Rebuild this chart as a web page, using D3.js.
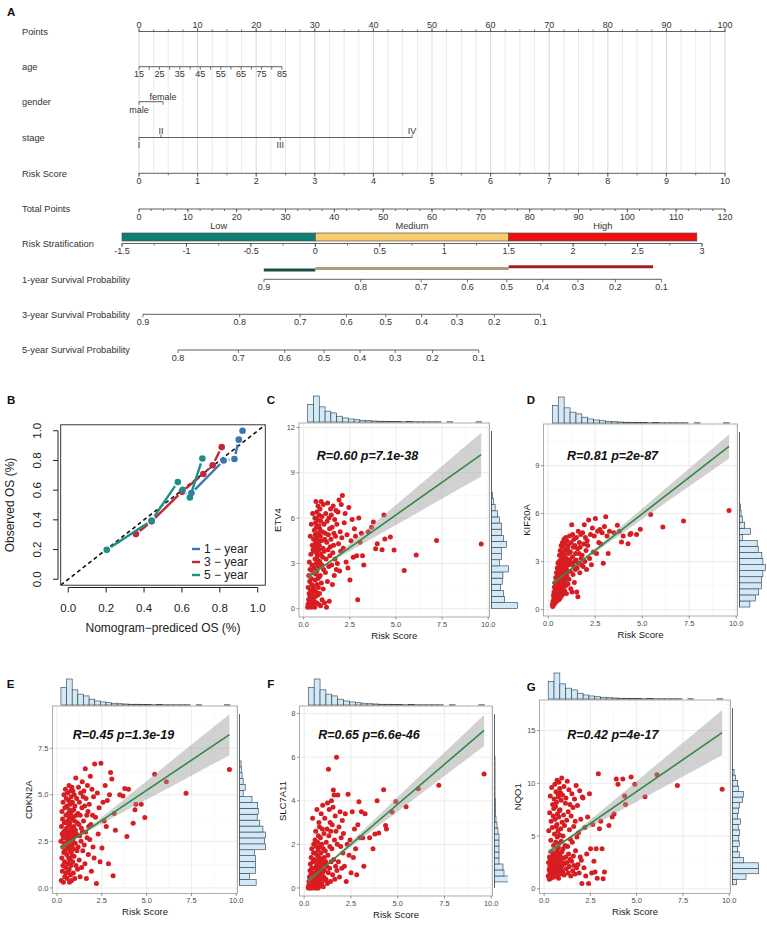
<!DOCTYPE html>
<html>
<head>
<meta charset="utf-8">
<title>Nomogram, calibration and risk score correlations</title>
<script src="https://cdn.jsdelivr.net/npm/d3@7/dist/d3.min.js"></script>
<style>
  body { margin: 0; background: #fff; }
  svg { display: block; font-family: "Liberation Sans", Arial, Helvetica, sans-serif; }
</style>
</head>
<body>
<svg id="fig" width="767" height="926"></svg>
<script>
// ---------------- A: nomogram ----------------
var pointsTicks = [0, 10, 20, 30, 40, 50, 60, 70, 80, 90, 100];
var ageTicks = [15, 20, 25, 30, 35, 40, 45, 50, 55, 60, 65, 70, 75, 80, 85];
var ageLabels = [15, 25, 35, 45, 55, 65, 75, 85];
var agePoints = [0, 24.4];               // points for age 15 and age 85
var genderLevels = ['male', 'female'];
var genderPoints = [0, 4.1];
var stageLevels = ['I', 'II', 'III', 'IV'];
var stagePoints = [0, 3.75, 24.1, 46.6];
var riskScoreTicks = [0, 1, 2, 3, 4, 5, 6, 7, 8, 9, 10];
var riskScorePoints = [0, 100];          // points for risk score 0 and 10
var totalPointsTicks = [0, 10, 20, 30, 40, 50, 60, 70, 80, 90, 100, 110, 120];
var stratTicks = [-1.5, -1, -0.5, 0, 0.5, 1, 1.5, 2, 2.5, 3];
var stratGroups = ['Low', 'Medium', 'High'];
var stratCuts = [-1.5, 0, 1.5, 2.96];
var oneYearBar = [-0.40, 2.62];
var surv1Ticks = [0.9, 0.8, 0.7, 0.6, 0.5, 0.4, 0.3, 0.2, 0.1];
var surv3Ticks = [0.9, 0.8, 0.7, 0.6, 0.5, 0.4, 0.3, 0.2, 0.1];
var surv5Ticks = [0.8, 0.7, 0.6, 0.5, 0.4, 0.3, 0.2, 0.1];
var survShift = [1.852, 0.913, 0.434];   // log(-log S) offset of each horizon

// ---------------- B: calibration ----------------
var cal1Pred = [0.65, 0.82, 0.877, 0.90, 0.92];
var cal1Obs  = [0.58, 0.80, 0.81, 0.94, 1.00];
var cal3Pred = [0.357, 0.44, 0.60, 0.713, 0.762, 0.81];
var cal3Obs  = [0.304, 0.39, 0.59, 0.709, 0.768, 0.89];
var cal5Pred = [0.203, 0.44, 0.578, 0.604, 0.642, 0.708];
var cal5Obs  = [0.198, 0.396, 0.655, 0.603, 0.551, 0.813];
var calTicks = [0, 0.2, 0.4, 0.6, 0.8, 1.0];

// ---------------- C-G: risk score vs gene expression ----------------
var riskScore = [
  0.22,0.24,0.25,0.27,0.28,0.29,0.30,0.31,0.32,0.33,0.34,0.35,0.36,0.37,0.38,0.39,0.40,0.41,0.42,0.43,0.44,0.45,0.46,0.47,0.48,0.49,0.50,0.50,0.51,0.52,
  0.53,0.54,0.55,0.56,0.57,0.58,0.58,0.59,0.60,0.61,0.62,0.62,0.63,0.64,0.65,0.65,0.66,0.67,0.68,0.68,0.69,0.70,0.70,0.71,0.72,0.72,0.73,0.74,0.75,0.75,0.76,0.77,0.77,0.78,0.79,0.79,0.80,0.80,0.81,0.82,0.82,0.83,0.83,0.84,
  0.85,0.86,0.87,0.88,0.89,0.90,0.91,0.92,0.93,0.94,0.95,0.96,0.97,0.98,0.99,1.00,1.02,1.03,1.05,1.06,1.07,1.08,1.10,1.11,1.13,1.15,
  1.17,1.18,1.20,1.22,1.24,1.25,1.27,1.29,1.30,1.32,1.34,1.36,1.37,1.39,1.41,1.42,1.44,1.46,
  1.48,1.50,1.52,1.54,1.56,1.58,1.60,1.62,1.64,1.66,1.68,1.70,1.73,1.75,1.77,
  1.80,1.83,1.86,1.89,1.92,1.95,1.98,2.01,2.04,2.07,
  2.10,2.15,2.20,2.25,2.30,2.35,2.40,
  2.45,2.51,2.57,2.63,2.69,
  2.75,2.81,2.87,2.93,2.99,
  3.06,3.13,3.19,3.26,
  3.50,3.68,3.78,3.90,3.99,4.25,4.35,4.40,4.70,4.90,5.45,6.10,7.20,9.62
];
var etv4 = [
  0.1,0.3,1.4,0.6,2.2,0.2,1.0,3.1,0.5,1.8,0.8,2.6,4.8,0.4,1.2,3.6,0.1,2.0,5.6,0.9,1.6,2.9,0.3,4.2,1.1,6.3,0.7,2.4,3.9,1.5,
  0.2,4.6,1.3,3.8,0.5,5.2,2.7,4.1,0.1,6.0,3.3,1.9,4.9,0.8,5.7,2.3,4.4,7.1,3.0,1.1,5.4,3.7,0.4,4.7,2.5,6.4,1.6,4.0,5.9,3.5,0.9,4.3,2.0,6.8,3.2,5.0,1.4,4.5,2.8,0.3,5.5,3.9,6.2,2.1,
  4.2,1.0,5.3,3.1,6.6,2.2,4.8,0.2,5.8,3.6,7.1,1.7,4.5,2.9,6.1,0.6,5.1,3.4,4.0,1.3,6.9,2.6,5.6,3.8,0.4,4.6,
  5.0,2.4,6.3,3.3,0.1,4.4,5.8,1.8,7.0,3.9,4.9,2.8,6.0,0.5,5.3,3.5,4.1,6.6,
  4.6,6.2,2.9,5.4,1.6,3.7,6.8,4.2,5.0,2.2,5.9,3.3,4.8,6.5,2.6,
  5.6,3.0,6.4,4.3,7.2,2.5,5.1,3.8,6.9,4.7,
  7.5,4.0,5.7,6.3,3.1,4.9,2.7,
  6.7,1.9,4.5,5.9,3.4,
  5.3,4.8,3.5,0.6,6.0,
  4.4,5.0,3.5,2.9,
  5.1,5.4,5.75,3.97,4.3,3.9,6.2,4.62,4.75,3.88,2.53,3.55,4.52,4.28
];
var kif20a = [
  0.3,0.2,0.5,0.4,0.9,0.3,0.7,1.1,0.5,1.4,0.8,0.4,1.7,1.0,0.6,1.3,2.0,0.9,1.6,0.5,2.3,1.2,0.8,1.9,2.6,1.4,0.7,2.2,1.1,2.9,
  1.0,2.4,0.6,1.7,3.0,1.3,0.9,2.1,3.4,1.5,0.7,2.7,1.9,3.7,1.2,2.3,0.8,3.1,1.6,2.8,4.0,1.1,2.0,3.3,1.4,2.5,0.9,3.6,1.8,2.9,4.2,1.3,2.2,3.5,1.7,2.6,1.0,3.9,2.0,3.0,1.5,2.4,3.2,4.4,
  2.0,3.4,1.2,2.7,4.1,1.8,3.0,2.3,4.5,1.5,3.7,2.6,1.0,3.2,4.3,2.1,2.9,3.8,1.6,2.4,4.0,3.5,1.9,2.8,4.6,3.1,
  2.4,3.6,1.3,4.2,2.9,5.3,1.1,3.3,4.7,2.2,3.9,2.7,4.4,1.7,3.0,4.0,2.5,3.5,
  3.1,4.5,1.1,2.6,3.8,0.8,4.9,2.9,3.5,4.2,2.3,3.9,4.7,3.2,2.8,
  3.4,4.8,2.7,4.1,5.3,3.0,4.5,3.7,2.5,4.3,
  4.0,5.6,3.2,4.7,2.8,5.1,3.6,
  4.6,5.7,3.5,4.9,4.2,
  5.0,4.1,4.8,2.9,5.2,
  5.8,4.6,3.5,4.9,
  4.8,5.27,4.9,4.23,4.6,4.12,4.7,4.75,4.7,5.02,5.94,5.16,5.54,6.2
];
var cdkn2a = [
  2.5,0.4,3.3,1.6,4.1,2.9,0.9,3.7,2.2,1.2,4.6,2.7,0.3,3.0,1.9,5.0,2.4,3.5,1.4,0.6,4.3,2.0,3.1,5.3,1.1,2.8,3.9,0.8,2.3,4.8,
  3.2,1.8,4.4,2.6,0.5,3.6,2.1,5.1,1.3,3.0,4.0,2.4,0.9,3.4,1.6,4.7,2.8,5.5,1.0,3.8,2.2,4.2,0.3,2.9,3.5,1.5,4.5,2.0,3.3,0.7,5.2,2.5,3.9,1.2,4.9,2.7,3.1,1.9,4.1,0.4,3.7,2.3,5.4,1.7,
  3.0,4.6,1.4,2.6,5.2,3.8,0.8,2.1,4.2,3.3,1.7,5.0,2.8,3.6,0.5,4.4,2.4,3.1,5.9,1.2,3.9,2.9,4.8,2.0,3.5,1.0,
  4.0,2.2,5.4,3.4,1.5,4.6,2.8,0.6,3.9,5.1,2.5,3.2,1.1,4.3,5.7,3.0,2.0,4.9,
  3.6,5.2,2.3,4.4,1.3,6.4,3.0,4.8,0.5,3.9,2.7,5.5,4.1,1.8,3.3,
  4.5,2.6,6.0,3.4,0.9,5.3,3.9,2.2,4.9,1.6,
  6.65,3.8,0.24,5.1,2.9,4.3,1.4,
  6.7,2.14,4.6,3.6,5.5,
  3.3,4.7,1.3,5.0,6.2,
  5.85,0.66,4.0,3.1,
  5.0,4.93,5.34,2.76,5.3,3.47,4.2,4.49,4.49,3.78,6.11,5.7,5.08,6.36
];
var slc7a11 = [
  0.0,0.1,0.3,0.05,0.5,0.2,0.0,0.8,0.15,1.1,0.4,0.0,0.6,1.4,0.25,0.1,0.9,1.8,0.35,0.0,0.7,3.2,0.2,1.2,0.45,0.05,1.6,0.3,2.0,0.55,
  0.1,0.6,1.3,0.0,0.4,2.2,0.9,0.2,1.6,0.05,0.7,2.6,0.3,1.0,0.15,1.9,0.5,0.0,1.2,3.6,0.8,0.25,1.5,0.4,2.1,0.1,0.95,0.6,1.75,0.0,2.4,0.35,1.1,0.7,3.0,0.2,1.4,0.5,0.85,2.8,0.1,1.25,0.45,1.9,
  0.3,1.0,2.3,0.1,1.6,0.6,3.4,0.9,0.2,2.0,1.3,0.45,2.7,0.7,3.8,1.1,0.05,1.8,0.5,2.5,1.4,0.8,3.2,0.35,1.7,1.2,
  0.4,2.1,1.0,2.7,0.2,3.9,1.5,0.7,5.45,2.4,3.6,0.9,1.9,3.0,0.3,2.6,1.2,4.0,
  1.8,2.9,0.6,3.7,4.5,1.3,4.27,2.2,0.4,3.3,1.0,2.6,6.0,0.8,2.0,
  4.27,1.2,2.8,0.5,3.5,1.9,2.3,0.9,3.1,1.6,
  2.5,1.0,3.4,0.3,2.0,4.3,1.5,
  2.2,0.7,3.5,1.4,2.7,
  1.8,0.6,2.9,3.96,2.3,
  3.5,2.3,1.0,3.4,
  2.3,1.8,2.48,4.0,2.52,4.51,2.86,2.7,3.48,3.97,3.73,4.55,4.71,5.23
];
var nqo1 = [
  1.2,2.5,5.5,1.8,0.9,3.0,7.2,2.1,1.5,8.8,2.8,1.0,4.6,2.3,6.4,1.7,3.5,9.6,2.0,1.3,5.8,2.6,8.0,1.6,3.2,6.9,2.2,1.1,4.1,7.6,
  2.4,8.5,1.5,5.2,2.9,9.9,1.9,6.6,3.3,1.2,7.8,2.6,4.4,9.2,1.7,5.9,2.1,8.2,3.6,1.4,6.1,10.3,2.8,4.9,1.9,7.1,3.0,9.0,1.6,5.5,2.3,8.7,3.9,1.0,6.8,2.5,10.1,4.3,1.8,7.4,2.7,5.1,3.4,9.5,
  2.0,7.5,3.1,9.1,1.4,5.7,2.6,8.4,4.5,1.8,10.5,3.5,6.3,2.2,8.9,1.6,5.0,3.8,7.0,2.9,9.7,1.3,6.0,2.4,4.1,8.1,
  3.0,8.6,1.9,6.5,2.5,10.2,4.0,1.5,7.3,3.3,9.4,2.1,5.6,8.0,2.8,4.7,1.2,6.9,
  2.6,9.0,4.4,1.7,7.7,3.1,5.9,2.2,8.5,1.4,6.4,3.6,9.8,2.0,4.9,
  7.9,2.3,5.3,1.5,9.3,3.0,6.6,2.7,0.5,8.7,
  8.6,2.0,5.8,1.2,3.3,6.8,0.5,
  9.0,3.8,1.5,6.1,2.6,
  1.6,3.8,1.0,10.9,5.7,
  6.4,3.8,0.95,1.6,
  6.0,6.8,7.08,10.4,9.9,10.4,8.8,8.0,10.6,9.9,8.73,10.8,9.8,9.43
];

// fitted line at the lowest and highest risk score, and half width of its band
var fitRange = [0.22, 9.62];
var ribbonX = [0.22, 1.2, 2.5, 5, 7.5, 9.62];
var etv4Fit = [2.08, 10.2],    etv4Band = [0.18, 0.08, 0.24, 0.66, 1.09, 1.45];
var kif20aFit = [1.62, 10.2],  kif20aBand = [0.10, 0.04, 0.12, 0.34, 0.56, 0.75];
var cdkn2aFit = [2.15, 8.23],  cdkn2aBand = [0.14, 0.06, 0.18, 0.50, 0.83, 1.10];
var slc7a11Fit = [0.33, 7.23], slc7a11Band = [0.10, 0.04, 0.12, 0.33, 0.54, 0.72];
var nqo1Fit = [3.45, 14.8],    nqo1Band = [0.28, 0.12, 0.36, 0.98, 1.60, 2.15];

// marginal histograms (bar counts, bottom to top / left to right)
var riskHistRange = [0.22, 9.65];
var riskHist = [69,103,60,43,36,23,16,12,9,7,5,4,3,3,2,2,1,2,1,1,1,1,1,0,1,0,0,0,0,1];
var etv4HistRange = [0, 7.7];
var etv4Hist = [50,25,23,17,21,22,33,15,19,19,29,23,19,19,15,12,7,4,2];
var kif20aHistRange = [0.16, 6.6];
var kif20aHist = [20,31,37,42,42,45,50,45,43,36,34,6,21,10,6,3,2];
var cdkn2aHistRange = [0.14, 6.82];
var cdkn2aHist = [32,19,31,31,31,29,50,48,50,45,39,34,36,35,24,7,11,7,5,4,3];
var slc7a11HistRange = [0, 6.05];
var slc7a11Hist = [52,40,19,17,9,9,9,9,9,7,5,3,2,2,2,1,1,1,1,1,1,1];
var nqo1HistRange = [0.38, 11.3];
var nqo1Hist = [8,26,50,50,21,13,10,13,12,14,11,15,10,12,13,19,21,12,10,6,3];

var xTicks = [0, 2.5, 5, 7.5, 10];
var etv4Ticks = [0, 3, 6, 9, 12];
var kif20aTicks = [0, 3, 6, 9];
var cdkn2aTicks = [0, 2.5, 5, 7.5];
var slc7a11Ticks = [0, 2, 4, 6, 8];
var nqo1Ticks = [0, 5, 10, 15];

var svg = d3.select('#fig');
svg.append('rect').attr('width', 767).attr('height', 926).attr('fill', '#fff');

function panelLetter(t, x, y) {
  svg.append('text').attr('x', x).attr('y', y).attr('font-size', 11.5)
    .attr('font-weight', 'bold').attr('fill', '#111').text(t);
}

// ================= A: nomogram =================
var nomo = svg.append('g');
var axisCol = '#4d4d4d', textCol = '#333';
var ptsX = d3.scaleLinear().domain([0, 100]).range([139, 725]);
var totX = d3.scaleLinear().domain([0, 120]).range([139, 725]);
var lpX = d3.scaleLinear().domain([-1.5, 3]).range([122, 702]);
var ageX = d3.scaleLinear().domain([15, 85]).range(agePoints.map(ptsX));
var rsX = d3.scaleLinear().domain([0, 10]).range(riskScorePoints.map(ptsX));
function survX(shift) { return function(s) { return lpX(Math.log(-Math.log(s)) + shift); }; }

// guide lines
d3.range(0, 100.001, 2.5).forEach(function(p) {
  nomo.append('line').attr('x1', ptsX(p)).attr('x2', ptsX(p)).attr('y1', 31.5).attr('y2', 173.3)
    .attr('stroke', p % 10 === 0 ? '#cfcfcf' : '#e6e6e6').attr('stroke-width', 0.8);
});

function axisLine(y, x0, x1) {
  nomo.append('line').attr('x1', x0).attr('x2', x1).attr('y1', y).attr('y2', y)
    .attr('stroke', axisCol).attr('stroke-width', 0.9);
}
function ticksAt(y, xs, len) {
  nomo.selectAll(null).data(xs).enter().append('line')
    .attr('x1', function(d) { return d; }).attr('x2', function(d) { return d; })
    .attr('y1', y).attr('y2', y + len).attr('stroke', axisCol).attr('stroke-width', 0.8);
}
function labelsAt(y, items, dy) {
  nomo.selectAll(null).data(items).enter().append('text')
    .attr('x', function(d) { return d[0]; }).attr('y', y + dy)
    .attr('text-anchor', 'middle').attr('font-size', 9).attr('fill', textCol)
    .text(function(d) { return d[1]; });
}
function rowLabel(t, y) {
  nomo.append('text').attr('x', 22).attr('y', y).attr('dy', '0.35em')
    .attr('font-size', 9.3).attr('fill', textCol).text(t);
}

// Points
rowLabel('Points', 31.5);
axisLine(31.5, ptsX(0), ptsX(100));
ticksAt(31.5, d3.range(0, 100.001, 2.5).map(ptsX), -2);
ticksAt(31.5, pointsTicks.map(ptsX), -3.5);
labelsAt(31.5, pointsTicks.map(function(d) { return [ptsX(d), d]; }), -3.5);

// age
rowLabel('age', 66.7);
axisLine(66.7, ageX(15), ageX(85));
ticksAt(66.7, ageTicks.map(ageX), 3);
labelsAt(66.7, ageLabels.map(function(d) { return [ageX(d), d]; }), 10.5);

// gender
rowLabel('gender', 101.7);
axisLine(101.7, ptsX(genderPoints[0]), ptsX(genderPoints[1]));
ticksAt(101.7, genderPoints.map(ptsX), 3);
labelsAt(101.7, [[ptsX(genderPoints[0]), genderLevels[0]]], 10.8);
labelsAt(101.7, [[ptsX(genderPoints[1]), genderLevels[1]]], -2);

// stage
rowLabel('stage', 137.5);
axisLine(137.5, ptsX(stagePoints[0]), ptsX(stagePoints[3]));
stageLevels.forEach(function(s, i) {
  var up = (i % 2 === 1);
  ticksAt(137.5, [ptsX(stagePoints[i])], up ? -3 : 3);
  labelsAt(137.5, [[ptsX(stagePoints[i]), s]], up ? -3.5 : 10.5);
});

// Risk Score
rowLabel('Risk Score', 173.3);
axisLine(173.3, rsX(0), rsX(10));
ticksAt(173.3, d3.range(0, 10.001, 0.5).map(rsX), 2);
ticksAt(173.3, riskScoreTicks.map(rsX), 3.5);
labelsAt(173.3, riskScoreTicks.map(function(d) { return [rsX(d), d]; }), 10.5);

// Total Points
rowLabel('Total Points', 209);
axisLine(209, totX(0), totX(120));
ticksAt(209, d3.range(0, 120.001, 2.5).map(totX), 2);
ticksAt(209, totalPointsTicks.map(totX), 3.5);
labelsAt(209, totalPointsTicks.map(function(d) { return [totX(d), d]; }), 10.5);

// Risk Stratification
rowLabel('Risk Stratification', 244);
var stratFill = ['#0f7f74', '#f6cc6d', '#f00f10'];
stratGroups.forEach(function(gname, i) {
  var x0 = lpX(stratCuts[i]), x1 = lpX(stratCuts[i + 1]);
  nomo.append('rect').attr('x', x0).attr('y', 233).attr('width', x1 - x0).attr('height', 8)
    .attr('fill', stratFill[i]).attr('stroke', '#555').attr('stroke-width', 0.7);
  nomo.append('text').attr('x', (x0 + x1) / 2).attr('y', 228.5).attr('text-anchor', 'middle')
    .attr('font-size', 9.3).attr('fill', textCol).text(gname);
});
axisLine(243.5, lpX(-1.5), lpX(3));
ticksAt(243.5, d3.range(-1.5, 3.001, 0.25).map(lpX), 2);
ticksAt(243.5, stratTicks.map(lpX), 3.5);
labelsAt(243.5, stratTicks.map(function(d) { return [lpX(d), d]; }), 10.8);

// survival probability rows
var barCol = ['#1c4e43', '#ab9c7e', '#a11d26'];
var barY = [270, 268.6, 266.8];
var barEnds = [oneYearBar[0], stratCuts[1], stratCuts[2], oneYearBar[1]];
for (var i = 0; i < 3; i++) {
  nomo.append('line').attr('x1', lpX(barEnds[i])).attr('x2', lpX(barEnds[i + 1]))
    .attr('y1', barY[i]).attr('y2', barY[i]).attr('stroke', barCol[i]).attr('stroke-width', 3);
}
[[surv1Ticks, 279.3, '1-year Survival Probability'],
 [surv3Ticks, 314.3, '3-year Survival Probability'],
 [surv5Ticks, 350, '5-year Survival Probability']].forEach(function(row, k) {
  var sx = survX(survShift[k]);
  var ticks = row[0], y = row[1];
  rowLabel(row[2], y);
  axisLine(y, sx(ticks[0]), sx(ticks[ticks.length - 1]));
  ticksAt(y, ticks.map(sx), 3);
  labelsAt(y, ticks.map(function(d) { return [sx(d), d]; }), 10.5);
});
panelLetter('A', 7, 16);

// ================= B: calibration =================
panelLetter('B', 7, 404);
var bx = d3.scaleLinear().domain([-0.04, 1.04]).range([60.7, 265.3]);
var by = d3.scaleLinear().domain([-0.04, 1.04]).range([585.2, 424.8]);
var cal = svg.append('g');
cal.append('clipPath').attr('id', 'calClip').append('rect')
  .attr('x', bx(-0.04)).attr('y', by(1.04)).attr('width', bx(1.04) - bx(-0.04)).attr('height', by(-0.04) - by(1.04));
cal.append('line').attr('clip-path', 'url(#calClip)')
  .attr('x1', bx(-0.04)).attr('y1', by(-0.04)).attr('x2', bx(1.04)).attr('y2', by(1.04))
  .attr('stroke', '#111').attr('stroke-width', 1.6).attr('stroke-dasharray', '4,3');

var calSeries = [
  { name: '1 \u2212 year', pred: cal1Pred, obs: cal1Obs, color: '#3b76b3' },
  { name: '3 \u2212 year', pred: cal3Pred, obs: cal3Obs, color: '#c3273b' },
  { name: '5 \u2212 year', pred: cal5Pred, obs: cal5Obs, color: '#1a9184' }
];
calSeries.forEach(function(s) {
  var pts = s.pred.map(function(p, i) { return [bx(p), by(s.obs[i])]; });
  var gap = 5;
  for (var i = 0; i < pts.length - 1; i++) {
    var a = pts[i], b = pts[i + 1];
    var dx = b[0] - a[0], dy = b[1] - a[1], len = Math.hypot(dx, dy);
    if (len <= 2 * gap) continue;
    var ux = dx / len, uy = dy / len;
    cal.append('line').attr('x1', a[0] + ux * gap).attr('y1', a[1] + uy * gap)
      .attr('x2', b[0] - ux * gap).attr('y2', b[1] - uy * gap)
      .attr('stroke', s.color).attr('stroke-width', 2.4);
  }
  cal.selectAll(null).data(pts).enter().append('circle')
    .attr('cx', function(d) { return d[0]; }).attr('cy', function(d) { return d[1]; })
    .attr('r', 3.3).attr('fill', s.color);
});
cal.append('rect').attr('x', bx(-0.04)).attr('y', by(1.04))
  .attr('width', bx(1.04) - bx(-0.04)).attr('height', by(-0.04) - by(1.04))
  .attr('fill', 'none').attr('stroke', '#222').attr('stroke-width', 0.9);
// x axis
cal.append('line').attr('x1', bx(0)).attr('x2', bx(1)).attr('y1', 587.5).attr('y2', 587.5).attr('stroke', '#222');
calTicks.forEach(function(t) {
  cal.append('line').attr('x1', bx(t)).attr('x2', bx(t)).attr('y1', 587.5).attr('y2', 592.5).attr('stroke', '#222');
  cal.append('text').attr('x', bx(t)).attr('y', 612).attr('text-anchor', 'middle')
    .attr('font-size', 11.5).attr('fill', '#222').text(d3.format('.1f')(t));
  cal.append('line').attr('x1', 58).attr('x2', 53).attr('y1', by(t)).attr('y2', by(t)).attr('stroke', '#222');
  cal.append('text').attr('transform', 'translate(41,' + by(t) + ') rotate(-90)')
    .attr('text-anchor', 'middle').attr('font-size', 11.5).attr('fill', '#222').text(d3.format('.1f')(t));
});
cal.append('line').attr('x1', 58).attr('x2', 58).attr('y1', by(0)).attr('y2', by(1)).attr('stroke', '#222');
cal.append('text').attr('x', (bx(0) + bx(1)) / 2).attr('y', 632).attr('text-anchor', 'middle')
  .attr('font-size', 12).attr('fill', '#222').text('Nomogram\u2212prediced OS (%)');
cal.append('text').attr('transform', 'translate(13.5,' + (by(0) + by(1)) / 2 + ') rotate(-90)')
  .attr('text-anchor', 'middle').attr('font-size', 12).attr('fill', '#222').text('Observed OS (%)');
calSeries.forEach(function(s, i) {
  var y = 549 + i * 13;
  cal.append('line').attr('x1', 192).attr('x2', 200).attr('y1', y).attr('y2', y)
    .attr('stroke', s.color).attr('stroke-width', 2.4);
  cal.append('text').attr('x', 204).attr('y', y).attr('dy', '0.36em')
    .attr('font-size', 12).attr('fill', '#222').text(s.name);
});

// ================= C-G: scatter with marginal histograms =================
var xDomain = [-0.25, 10.07];
var panels = [
  { letter: 'C', lp: [266.7, 404.3], gene: 'ETV4', v: etv4, fit: etv4Fit, band: etv4Band,
    yDomain: [-0.55, 12.3], yTicks: etv4Ticks, fmt: 'd', hist: etv4Hist, histRange: etv4HistRange,
    rect: [299, 423, 489.5, 617], anno: 'R=0.60 p=7.1e-38', annoPos: [316.7, 456] },
  { letter: 'D', lp: [526.7, 404], gene: 'KIF20A', v: kif20a, fit: kif20aFit, band: kif20aBand,
    yDomain: [-0.4, 11.6], yTicks: kif20aTicks, fmt: 'd', hist: kif20aHist, histRange: kif20aHistRange,
    rect: [543.5, 424, 737.5, 616], anno: 'R=0.81 p=2e-87', annoPos: [567, 456] },
  { letter: 'E', lp: [6.7, 687.7], gene: 'CDKN2A', v: cdkn2a, fit: cdkn2aFit, band: cdkn2aBand,
    yDomain: [-0.3, 9.77], yTicks: cdkn2aTicks, fmt: '.1f', hist: cdkn2aHist, histRange: cdkn2aHistRange,
    rect: [52.5, 706, 237.5, 893.5], anno: 'R=0.45 p=1.3e-19', annoPos: [72.7, 735] },
  { letter: 'F', lp: [267.3, 687.7], gene: 'SLC7A11', v: slc7a11, fit: slc7a11Fit, band: slc7a11Band,
    yDomain: [-0.37, 8.35], yTicks: slc7a11Ticks, fmt: 'd', hist: slc7a11Hist, histRange: slc7a11HistRange,
    rect: [299.5, 706, 492.5, 896], anno: 'R=0.65 p=6.6e-46', annoPos: [318.3, 735], clipRight: 508 },
  { letter: 'G', lp: [526.7, 690.7], gene: 'NQO1', v: nqo1, fit: nqo1Fit, band: nqo1Band,
    yDomain: [-0.45, 17.9], yTicks: nqo1Ticks, fmt: 'd', hist: nqo1Hist, histRange: nqo1HistRange,
    rect: [539.5, 700, 730.5, 893.5], anno: 'R=0.42 p=4e-17', annoPos: [567.3, 735] }
];

function minorsOf(ticks, dom) {
  var step = ticks[1] - ticks[0];
  return d3.range(ticks[0] - step / 2, dom[1], step).filter(function(v) { return v > dom[0] && v < dom[1]; });
}

panels.forEach(function(p, pi) {
  var r = p.rect;
  var x = d3.scaleLinear().domain(xDomain).range([r[0], r[2]]);
  var y = d3.scaleLinear().domain(p.yDomain).range([r[3], r[1]]);
  var g = svg.append('g');
  panelLetter(p.letter, p.lp[0], p.lp[1]);

  g.append('rect').attr('x', r[0]).attr('y', r[1]).attr('width', r[2] - r[0]).attr('height', r[3] - r[1]).attr('fill', '#fff');
  minorsOf(xTicks, xDomain).forEach(function(t) {
    g.append('line').attr('x1', x(t)).attr('x2', x(t)).attr('y1', r[1]).attr('y2', r[3]).attr('stroke', '#f3f3f3').attr('stroke-width', 0.5);
  });
  minorsOf(p.yTicks, p.yDomain).forEach(function(t) {
    g.append('line').attr('x1', r[0]).attr('x2', r[2]).attr('y1', y(t)).attr('y2', y(t)).attr('stroke', '#f3f3f3').attr('stroke-width', 0.5);
  });
  xTicks.forEach(function(t) {
    g.append('line').attr('x1', x(t)).attr('x2', x(t)).attr('y1', r[1]).attr('y2', r[3]).attr('stroke', '#e4e4e4').attr('stroke-width', 0.7);
  });
  p.yTicks.forEach(function(t) {
    g.append('line').attr('x1', r[0]).attr('x2', r[2]).attr('y1', y(t)).attr('y2', y(t)).attr('stroke', '#e4e4e4').attr('stroke-width', 0.7);
  });

  // points
  g.selectAll('circle').data(d3.zip(riskScore, p.v)).enter().append('circle')
    .attr('cx', function(d) { return x(d[0]); }).attr('cy', function(d) { return y(d[1]); })
    .attr('r', 2.5).attr('fill', '#d81d22');

  // fitted line with confidence band
  var slope = (p.fit[1] - p.fit[0]) / (fitRange[1] - fitRange[0]);
  function fitAt(v) { return p.fit[0] + (v - fitRange[0]) * slope; }
  var bandPts = ribbonX.map(function(v, i) { return [v, fitAt(v) - p.band[i], fitAt(v) + p.band[i]]; });
  g.append('path').datum(bandPts)
    .attr('d', d3.area().curve(d3.curveMonotoneX)
      .x(function(d) { return x(d[0]); }).y0(function(d) { return y(d[1]); }).y1(function(d) { return y(d[2]); }))
    .attr('fill', '#9a9a9a').attr('fill-opacity', 0.45);
  g.append('line').attr('x1', x(fitRange[0])).attr('y1', y(p.fit[0]))
    .attr('x2', x(fitRange[1])).attr('y2', y(p.fit[1]))
    .attr('stroke', '#2e8b43').attr('stroke-width', 1.6);

  g.append('rect').attr('x', r[0]).attr('y', r[1]).attr('width', r[2] - r[0]).attr('height', r[3] - r[1])
    .attr('fill', 'none').attr('stroke', '#8a8a8a').attr('stroke-width', 0.7);

  // axes
  var fmt = d3.format(p.fmt);
  xTicks.forEach(function(t) {
    g.append('line').attr('x1', x(t)).attr('x2', x(t)).attr('y1', r[3]).attr('y2', r[3] + 2.5).attr('stroke', '#555').attr('stroke-width', 0.6);
    g.append('text').attr('x', x(t)).attr('y', r[3] + 9.8).attr('text-anchor', 'middle')
      .attr('font-size', 7.5).attr('fill', '#4d4d4d').text(d3.format('.1f')(t));
  });
  var maxW = 0;
  p.yTicks.forEach(function(t) {
    g.append('line').attr('x1', r[0] - 2.5).attr('x2', r[0]).attr('y1', y(t)).attr('y2', y(t)).attr('stroke', '#555').attr('stroke-width', 0.6);
    var tx = g.append('text').attr('x', r[0] - 4).attr('y', y(t)).attr('dy', '0.35em').attr('text-anchor', 'end')
      .attr('font-size', 7.5).attr('fill', '#4d4d4d').text(fmt(t));
    maxW = Math.max(maxW, tx.node().getComputedTextLength());
  });
  g.append('text').attr('x', (r[0] + r[2]) / 2).attr('y', r[3] + 21.5).attr('text-anchor', 'middle')
    .attr('font-size', 9.5).attr('fill', '#1a1a1a').text('Risk Score');
  g.append('text').attr('transform', 'translate(' + (r[0] - 4 - maxW - 9) + ',' + (r[1] + r[3]) / 2 + ') rotate(-90)')
    .attr('dy', '0.35em').attr('text-anchor', 'middle').attr('font-size', 9.5).attr('fill', '#1a1a1a').text(p.gene);
  g.append('text').attr('x', p.annoPos[0]).attr('y', p.annoPos[1]).attr('dy', '0.35em')
    .attr('font-size', 12.5).attr('font-weight', 'bold').attr('font-style', 'italic').attr('fill', '#111').text(p.anno);

  // top marginal histogram (risk score)
  var tb = r[1] - 1;
  var tw = (riskHistRange[1] - riskHistRange[0]) / riskHist.length;
  var th = d3.scaleLinear().domain([0, d3.max(riskHist)]).range([0, 26]);
  g.selectAll('rect.top').data(riskHist).enter().append('rect')
    .attr('x', function(d, i) { return x(riskHistRange[0] + i * tw); })
    .attr('width', x(riskHistRange[0] + tw) - x(riskHistRange[0]))
    .attr('y', function(d) { return tb - th(d); }).attr('height', function(d) { return th(d); })
    .attr('fill', '#d3e9f7').attr('stroke', '#2c3a44').attr('stroke-width', 0.6);

  // right marginal histogram (gene)
  var rb = r[2] + 2;
  var rg = g.append('g');
  if (p.clipRight) {
    rg.append('clipPath').attr('id', 'clipR' + pi).append('rect')
      .attr('x', rb - 2).attr('y', r[1] - 5).attr('width', p.clipRight - rb + 2).attr('height', r[3] - r[1] + 10);
    rg.attr('clip-path', 'url(#clipR' + pi + ')');
  }
  var hw = (p.histRange[1] - p.histRange[0]) / p.hist.length;
  var hh = d3.scaleLinear().domain([0, d3.max(p.hist)]).range([0, 26]);
  rg.append('line').attr('x1', rb).attr('x2', rb).attr('y1', r[1] + 8).attr('y2', y(p.histRange[0]))
    .attr('stroke', '#2c3a44').attr('stroke-width', 0.8);
  rg.selectAll('rect').data(p.hist).enter().append('rect')
    .attr('x', rb).attr('width', function(d) { return hh(d); })
    .attr('y', function(d, i) { return y(p.histRange[0] + (i + 1) * hw); })
    .attr('height', y(p.histRange[0]) - y(p.histRange[0] + hw))
    .attr('fill', '#d3e9f7').attr('stroke', '#2c3a44').attr('stroke-width', 0.6);
});
</script>
</body>
</html>
